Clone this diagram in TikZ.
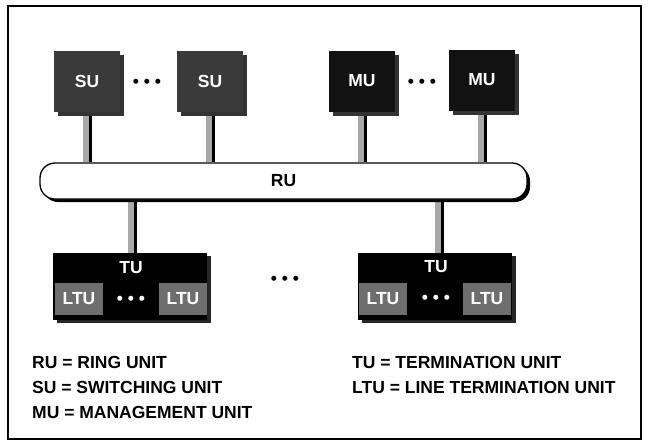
\documentclass[tikz,border=0pt]{standalone}
\usepackage{fontspec}
\setmainfont{Liberation Sans}
\usetikzlibrary{shadows,backgrounds}
\definecolor{sugray}{HTML}{3A3A3A}
\definecolor{mublack}{HTML}{121212}
\definecolor{ltugray}{HTML}{6E6E6E}
\definecolor{polegray}{HTML}{A8A8A8}
\begin{document}
\begin{tikzpicture}[x=1pt,y=-1pt,
  every node/.style={font=\fontsize{17.5}{20}\selectfont\bfseries, inner sep=0pt},
  frame/.style={draw, line width=1.3pt},
  unitbox/.style={rectangle, minimum width=66pt, minimum height=61pt, text=white,
     drop shadow={shadow xshift=4pt, shadow yshift=-4pt, opacity=1, fill=black!80}},
  subox/.style={unitbox, fill=sugray},
  mubox/.style={unitbox, fill=mublack},
  ringbar/.style={rectangle, rounded corners=15pt, draw, line width=1.3pt, fill=white,
     minimum width=487pt, minimum height=36pt,
     drop shadow={shadow xshift=3pt, shadow yshift=-3pt, opacity=1, fill=black}},
  tubox/.style={rectangle, fill=black, minimum width=154pt, minimum height=67pt,
     drop shadow={shadow xshift=4pt, shadow yshift=-3pt, opacity=1, fill=black!85}},
  ltubox/.style={rectangle, fill=ltugray, minimum width=48pt, minimum height=32pt, text=white},
  boxtext/.style={text=white},
  dots/.style={text=black},
  wdots/.style={text=white},
  pole/.style={draw=polegray, line width=9pt,
     postaction={draw=black, line width=3pt, transform canvas={xshift=3pt}}},
  legend/.style={anchor=west, text=black}
]
\useasboundingbox (0,0) rectangle (650,440);
\draw[frame] (8,6) rectangle (641,439);

% top units
\node[subox] (su1) at (87,81) {SU};
\node[subox] (su2) at (210,81) {SU};
\node[mubox] (mu1) at (362,81) {MU};
\node[mubox] (mu2) at (482,80) {MU};
\node[dots] (dsu) at (147,83) {• • •};
\node[dots] (dmu) at (422,83) {• • •};

% ring unit
\node[ringbar] (ru) at (283.5,181) {RU};

% termination units
\node[tubox] (tu1) at (130,286.5) {};
\node[tubox] (tu2) at (435,286.5) {};
\node[boxtext] (tu1l) at (131,268) {TU};
\node[boxtext] (tu2l) at (436,267) {TU};
\node[ltubox] (l11) at (79,299) {LTU};
\node[ltubox] (l12) at (183,299) {LTU};
\node[wdots] (d1) at (131,300) {• • •};
\node[ltubox] (l21) at (383,299) {LTU};
\node[ltubox] (l22) at (487,299) {LTU};
\node[wdots] (d2) at (436,299) {• • •};
\node[dots] (dtu) at (285,280) {• • •};

% poles
\begin{scope}[on background layer]
\draw[pole] (su1.south) -- (su1.south |- ru.north);
\draw[pole] (su2.south) -- (su2.south |- ru.north);
\draw[pole] (mu1.south) -- (mu1.south |- ru.north);
\draw[pole] (mu2.south) -- (mu2.south |- ru.north);
\draw[pole] ([xshift=2pt]tu1.north) -- ([xshift=2pt]tu1.north |- ru.south);
\draw[pole] ([xshift=4pt]tu2.north) -- ([xshift=4pt]tu2.north |- ru.south);
\end{scope}

% legend
\node[legend] (lg1) at (32,362) {RU = RING UNIT};
\node[legend] (lg2) at (32,387) {SU = SWITCHING UNIT};
\node[legend] (lg3) at (32,412) {MU = MANAGEMENT UNIT};
\node[legend] (lg4) at (352,362) {TU = TERMINATION UNIT};
\node[legend] (lg5) at (352,387) {LTU = LINE TERMINATION UNIT};
\end{tikzpicture}
\end{document}
